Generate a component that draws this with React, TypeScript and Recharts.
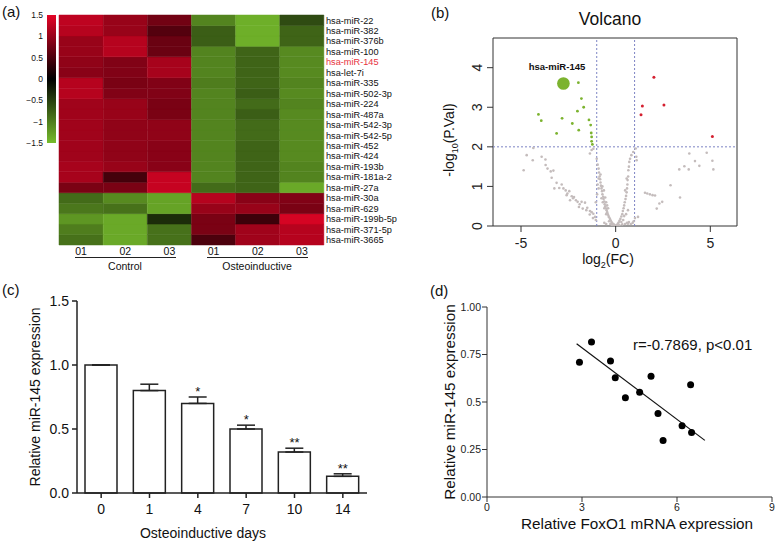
import React from "react";
import {
  Bar,
  BarChart,
  Cell,
  ComposedChart,
  ErrorBar,
  LabelList,
  Line,
  ReferenceArea,
  ReferenceLine,
  Scatter,
  ScatterChart,
  XAxis,
  YAxis,
} from "recharts";

const FONT = '"Liberation Sans", Arial, Helvetica, sans-serif';

// ---------- (a) heatmap ----------
const heatSamples = ["01", "02", "03", "01", "02", "03"];
const heatGroups = ["Control", "Osteoinductive"];
const heatRows = [
  "hsa-miR-22", "hsa-miR-382", "hsa-miR-376b", "hsa-miR-100", "hsa-miR-145", "hsa-let-7i",
  "hsa-miR-335", "hsa-miR-502-3p", "hsa-miR-224", "hsa-miR-487a", "hsa-miR-542-3p", "hsa-miR-542-5p",
  "hsa-miR-452", "hsa-miR-424", "hsa-miR-193b", "hsa-miR-181a-2", "hsa-miR-27a", "hsa-miR-30a",
  "hsa-miR-629", "hsa-miR-199b-5p", "hsa-miR-371-5p", "hsa-miR-3665",
];
const heatValues = [
  [1.25, 1.0, 0.75, -1.05, -1.4, -0.6],
  [1.2, 1.0, 0.55, -0.75, -1.4, -0.8],
  [1.0, 1.2, 0.7, -0.75, -1.4, -0.8],
  [1.0, 1.2, 0.7, -1.05, -0.8, -1.1],
  [0.95, 0.85, 1.1, -1.05, -0.8, -1.1],
  [0.9, 0.85, 1.1, -1.05, -0.8, -1.1],
  [1.2, 0.8, 0.85, -1.0, -0.8, -1.05],
  [1.2, 0.85, 0.85, -1.05, -0.75, -1.1],
  [1.05, 1.0, 0.8, -1.05, -0.85, -1.05],
  [1.05, 1.0, 0.8, -1.05, -0.75, -1.1],
  [1.05, 0.95, 0.95, -1.05, -0.85, -1.1],
  [1.05, 0.95, 0.95, -1.05, -0.85, -1.1],
  [1.05, 0.95, 0.9, -1.05, -0.8, -1.1],
  [1.05, 0.95, 0.9, -1.05, -0.8, -1.1],
  [1.1, 1.0, 0.9, -1.05, -0.8, -1.05],
  [1.1, 0.45, 1.3, -1.05, -0.8, -1.05],
  [0.8, 0.8, 1.3, -0.85, -0.8, -1.35],
  [-0.85, -1.1, -1.3, 1.2, 0.9, 0.85],
  [-0.95, -0.9, -1.3, 1.0, 1.0, 0.8],
  [-1.2, -1.35, -0.35, 0.8, 0.4, 1.4],
  [-1.0, -1.35, -0.9, 0.8, 1.05, 1.2],
  [-0.9, -1.35, -0.9, 0.5, 1.05, 1.2],
];
const scaleTicks = [1.5, 1, 0.5, 0, -0.5, -1, -1.5];

// ---------- (b) volcano ----------
const volcanoGrey = [
  [-4.35, 1.97], [-4.7, 1.79], [-4.38, 1.66], [-4.86, 1.41], [-3.91, 1.75], [-3.71, 1.68], [-3.7, 1.54],
  [-3.6, 1.45], [-3.43, 1.38], [-3.29, 1.4], [-3.38, 1.22], [-3.12, 1.09], [-3.24, 0.95], [-2.98, 0.96],
  [-2.76, 0.95], [-2.64, 0.9], [-2.59, 0.78], [-2.45, 0.88], [-2.32, 0.75], [-2.41, 0.65], [-2.2, 0.73],
  [-2.1, 0.65], [-2.01, 0.61], [-1.8, 0.61], [-1.62, 0.59], [-1.94, 0.48], [-1.74, 0.44], [-1.5, 0.46],
  [-1.36, 0.38], [-1.27, 0.35], [-1.18, 0.31], [-1.37, 0.29], [-1.09, 0.23], [-2.85, 1.05], [-2.55, 0.82],
  [-2.25, 0.7], [-1.9, 0.55], [-1.55, 0.4], [-1.2, 0.2], [-1.05, 0.15], [-1.27, 1.92], [-1.36, 1.83],
  [-1.18, 1.95], [-1.0, 1.7], [-0.95, 1.55], [-0.9, 1.45], [-0.88, 1.35], [-0.85, 1.25], [-0.82, 1.18],
  [-0.8, 1.1], [-0.78, 1.02], [-0.75, 0.95], [-0.72, 0.88], [-0.7, 0.8], [-0.66, 0.74], [-0.64, 0.68],
  [-0.6, 0.62], [-0.58, 0.55], [-0.55, 0.5], [-0.52, 0.45], [-0.48, 0.4], [-0.45, 0.35], [-0.42, 0.3],
  [-0.38, 0.26], [-0.35, 0.22], [-0.3, 0.18], [-0.26, 0.14], [-0.22, 0.1], [-0.18, 0.07], [-0.12, 0.05],
  [-0.08, 0.03], [-0.04, 0.01], [-0.9, 1.2], [-0.8, 1.3], [-0.7, 1.0], [-0.62, 0.9], [-0.55, 0.72],
  [-0.5, 0.6], [-0.45, 0.52], [-0.4, 0.45], [-0.68, 0.6], [-0.6, 0.45], [-0.5, 0.3], [-0.9, 0.95],
  [-0.95, 1.05], [-0.75, 0.7], [-0.35, 0.12], [-0.28, 0.05], [-0.2, 0.02], [-1.05, 0.6], [-0.98, 0.8],
  [0.04, 0.01], [0.08, 0.03], [0.12, 0.06], [0.16, 0.09], [0.2, 0.13], [0.25, 0.18], [0.3, 0.24],
  [0.35, 0.3], [0.38, 0.38], [0.42, 0.45], [0.45, 0.52], [0.48, 0.6], [0.52, 0.68], [0.55, 0.76],
  [0.58, 0.85], [0.6, 0.95], [0.62, 1.05], [0.63, 1.16], [0.66, 1.25], [0.67, 1.41], [0.76, 1.7],
  [0.83, 1.79], [0.93, 1.87], [1.06, 1.96], [1.09, 1.75], [1.11, 1.66], [0.7, 1.5], [0.72, 1.62],
  [0.3, 0.1], [0.4, 0.15], [0.5, 0.05], [0.6, 0.08], [0.7, 0.1], [0.8, 0.05], [0.45, 0.25], [0.55, 0.3],
  [0.65, 0.4], [0.5, 0.9], [0.58, 1.2], [1.02, 0.2], [1.18, 0.23], [0.95, 0.12], [-0.5, 0.05],
  [-0.6, 0.08], [0.2, 0.02], [0.35, 0.04], [0.65, 0.06], [0.9, 0.08], [1.55, 0.84], [1.67, 0.82],
  [1.81, 0.8], [1.95, 0.78], [2.08, 0.77], [2.31, 0.57], [2.46, 0.61], [2.17, 0.44], [2.9, 1.03],
  [3.4, 0.72], [3.36, 1.43], [3.63, 1.51], [3.86, 1.43], [3.89, 1.83], [4.19, 1.64], [4.42, 1.52],
  [4.81, 1.85], [5.11, 1.65], [5.16, 1.43],
];
const volcanoDown = [
  [-1.97, 3.62], [-1.81, 3.22], [-1.69, 3.0], [-2.02, 2.9], [-4.08, 2.82], [-3.93, 2.66], [-2.83, 2.72],
  [-1.41, 2.68], [-2.29, 2.59], [-1.32, 2.55], [-1.95, 2.42], [-3.12, 2.34], [-1.29, 2.35], [-1.27, 2.25],
  [-1.27, 2.14], [-1.23, 2.06],
];
const volcanoUp = [[2.02, 3.76], [1.41, 3.03], [2.55, 3.06], [1.34, 2.81], [5.11, 2.26]];
const volcanoHit = [[-2.76, 3.6]];

// ---------- (c) bar chart ----------
const days = ["0", "1", "4", "7", "10", "14"];
const expr = [1.0, 0.8, 0.7, 0.5, 0.32, 0.13];
const sem = [0, 0.05, 0.05, 0.03, 0.03, 0.02];
const sig = ["", "", "*", "*", "**", "**"];

// ---------- (d) correlation ----------
const foxo1 = [2.92, 3.3, 3.9, 4.05, 4.37, 4.82, 5.18, 5.4, 5.56, 6.16, 6.43, 6.46];
const mir145 = [0.709, 0.816, 0.716, 0.628, 0.523, 0.551, 0.635, 0.439, 0.298, 0.375, 0.591, 0.339];
const fitX = [2.83, 6.88];
const fitY = [0.807, 0.298];

function heatColor(v: number) {
  const t = Math.min(Math.abs(v) / 1.5, 1);
  const end = v >= 0 ? [228, 4, 38] : [118, 188, 44];
  return `rgb(${end.map((c) => Math.round(c * t)).join(",")})`;
}

const heatData = heatSamples.map((s, j) => {
  const row: Record<string, number | string> = { id: j, sample: s };
  heatRows.forEach((_, i) => (row[`r${i}`] = 1));
  return row;
});
const toPts = (arr: number[][]) => arr.map(([x, y]) => ({ x, y }));
const barData = days.map((d, i) => ({ day: d, value: expr[i], err: [0, sem[i]], top: expr[i] + sem[i], sig: sig[i] }));
const corrData = foxo1.map((x, i) => ({ x, y: mir145[i] }));

function Txt({ x, y, size, children, center = true, color = "#111", rotate = false, weight = 400 }: any) {
  return (
    <div
      style={{
        position: "absolute",
        left: x,
        top: y,
        fontSize: size,
        color,
        fontWeight: weight,
        whiteSpace: "nowrap",
        lineHeight: 1,
        transform: `${center ? "translate(-50%,-50%)" : "translate(0,-50%)"}${rotate ? " rotate(-90deg)" : ""}`,
      }}
    >
      {children}
    </div>
  );
}

const dot = (r: number, fill: string) => (p: any) => <circle cx={p.cx} cy={p.cy} r={r} fill={fill} />;

export default function App() {
  const rowTicks = heatRows.map((_, i) => heatRows.length - 0.5 - i);
  return (
    <div style={{ position: "absolute", left: 0, top: 0, width: 778, height: 544, background: "#fff", fontFamily: FONT, overflow: "hidden" }}>
      {/* (a) colour key */}
      <div style={{ position: "absolute", left: 0, top: 0 }}>
        <BarChart width={60} height={160} data={[{ k: "key", range: [-1.5, 1.5] }]} margin={{ top: 15, right: 4, bottom: 17, left: 0 }} barCategoryGap={0}>
          <defs>
            <linearGradient id="cbar" x1="0" y1="0" x2="0" y2="1">
              <stop offset="0%" stopColor={heatColor(1.5)} />
              <stop offset="50%" stopColor="#000" />
              <stop offset="100%" stopColor={heatColor(-1.5)} />
            </linearGradient>
          </defs>
          <XAxis dataKey="k" hide />
          <YAxis
            type="number"
            domain={[-1.5, 1.5]}
            ticks={scaleTicks}
            width={47}
            tickSize={0}
            tickMargin={4}
            axisLine={false}
            tickLine={false}
            tick={{ fontSize: 8.5, fill: "#111", fontFamily: FONT }}
            tickFormatter={(v: number) => String(v).replace("-", "\u2212")}
          />
          <Bar dataKey="range" fill="url(#cbar)" isAnimationActive={false} />
        </BarChart>
      </div>

      {/* (a) heatmap */}
      <div style={{ position: "absolute", left: 0, top: 0 }}>
        <BarChart width={400} height={280} data={heatData} margin={{ top: 15, right: 0, bottom: 0, left: 59 }} barCategoryGap={0} barGap={0}>
          <XAxis
            dataKey="id"
            height={35}
            tickSize={0}
            tickMargin={3}
            axisLine={false}
            tickLine={false}
            tick={{ fontSize: 10.5, fill: "#111", fontFamily: FONT }}
            tickFormatter={(v: number) => heatSamples[v]}
          />
          <YAxis
            orientation="right"
            type="number"
            domain={[0, heatRows.length]}
            ticks={rowTicks}
            width={76}
            tickSize={0}
            tickMargin={2}
            axisLine={false}
            tickLine={false}
            interval={0}
            tick={(p: any) => {
              const idx = Math.round(heatRows.length - 0.5 - p.payload.value);
              return (
                <text x={p.x} y={p.y} dy={3.3} fontSize={9.2} fontFamily={FONT} textAnchor="start" fill={heatRows[idx] === "hsa-miR-145" ? "#e8323c" : "#111"}>
                  {heatRows[idx]}
                </text>
              );
            }}
          />
          {heatRows
            .map((_, i) => i)
            .reverse()
            .map((i) => (
              <Bar key={i} dataKey={`r${i}`} stackId="h" isAnimationActive={false}>
                {heatSamples.map((_, j) => (
                  <Cell key={j} fill={heatColor(heatValues[i][j])} stroke={heatColor(heatValues[i][j])} strokeWidth={0.5} />
                ))}
              </Bar>
            ))}
        </BarChart>
      </div>
      <div style={{ position: "absolute", left: 75, top: 257, width: 101, borderTop: "1px solid #222" }} />
      <div style={{ position: "absolute", left: 207, top: 257, width: 101, borderTop: "1px solid #222" }} />
      <Txt x={125} y={266} size={10.5}>{heatGroups[0]}</Txt>
      <Txt x={257} y={266} size={10.5}>{heatGroups[1]}</Txt>
      <Txt x={2} y={11} size={15} center={false}>(a)</Txt>

      {/* (b) volcano */}
      <div style={{ position: "absolute", left: 400, top: 0 }}>
        <ScatterChart width={378} height={280} margin={{ top: 38, right: 41, bottom: 0, left: 0 }}>
          <XAxis
            type="number"
            dataKey="x"
            domain={[-6.48, 6.41]}
            ticks={[-5, 0, 5]}
            height={54}
            axisLine={false}
            tickSize={6}
            tickMargin={6}
            stroke="#333"
            tick={{ fontSize: 14, fill: "#222", fontFamily: FONT }}
            allowDataOverflow
          />
          <YAxis
            type="number"
            dataKey="y"
            domain={[0, 4.75]}
            ticks={[0, 1, 2, 3, 4]}
            width={93}
            axisLine={false}
            tickSize={6}
            tickMargin={5}
            stroke="#333"
            allowDataOverflow
            tick={(p: any) => (
              <text x={p.x} y={p.y} transform={`rotate(-90 ${p.x} ${p.y})`} textAnchor="middle" fontSize={14} fill="#222" fontFamily={FONT}>
                {p.payload.value}
              </text>
            )}
          />
          <ReferenceArea x1={-6.48} x2={6.41} y1={0} y2={4.75} fill="none" fillOpacity={0} stroke="#333" strokeWidth={1} ifOverflow="visible" />
          <ReferenceLine x={-1} stroke="#7d84c4" strokeDasharray="2 2" />
          <ReferenceLine x={1} stroke="#7d84c4" strokeDasharray="2 2" />
          <ReferenceLine y={2} stroke="#7d84c4" strokeDasharray="2 2" />
          <Scatter data={toPts(volcanoGrey)} shape={dot(1.3, "#c4bcbc")} isAnimationActive={false} />
          <Scatter data={toPts(volcanoDown)} shape={dot(1.4, "#7cb32f")} isAnimationActive={false} />
          <Scatter data={toPts(volcanoUp)} shape={dot(1.5, "#d42030")} isAnimationActive={false} />
          <Scatter data={toPts(volcanoHit)} shape={dot(6.3, "#7cb32f")} isAnimationActive={false} />
        </ScatterChart>
      </div>
      <Txt x={557} y={67} size={9.5} weight={700}>hsa-miR-145</Txt>
      <Txt x={610} y={20} size={17.5}>Volcano</Txt>
      <Txt x={608} y={261} size={14}>
        log<sub style={{ fontSize: 9 }}>2</sub>(FC)
      </Txt>
      <Txt x={451} y={140} size={14} rotate>
        -log<sub style={{ fontSize: 9 }}>10</sub>(P.Val)
      </Txt>
      <Txt x={431} y={12} size={15} center={false}>(b)</Txt>

      {/* (c) bar chart */}
      <div style={{ position: "absolute", left: 0, top: 270 }}>
        <ComposedChart width={390} height={274} data={barData} margin={{ top: 31, right: 23, bottom: 0, left: 0 }}>
          <XAxis
            dataKey="day"
            height={51}
            stroke="#222"
            strokeWidth={1.5}
            tickSize={5}
            tickMargin={6}
            tick={{ fontSize: 14, fill: "#111", fontFamily: FONT }}
          />
          <YAxis
            type="number"
            domain={[0, 1.5]}
            ticks={[0, 0.5, 1, 1.5]}
            width={77}
            stroke="#222"
            strokeWidth={1.5}
            tickSize={5}
            tickMargin={3}
            tick={{ fontSize: 14, fill: "#111", fontFamily: FONT }}
            tickFormatter={(v: number) => v.toFixed(1)}
          />
          <Bar dataKey="value" fill="#fff" stroke="#222" strokeWidth={1.5} barSize={32} isAnimationActive={false}>
            <ErrorBar dataKey="err" width={9} stroke="#222" strokeWidth={1.5} direction="y" />
          </Bar>
          <Line dataKey="top" stroke="none" dot={false} activeDot={false} isAnimationActive={false} legendType="none">
            <LabelList dataKey="sig" position="top" offset={1} fontSize={13} fill="#111" fontFamily={FONT} />
          </Line>
        </ComposedChart>
      </div>
      <Txt x={35} y={397} size={14} rotate>Relative miR-145 expression</Txt>
      <Txt x={203} y={533} size={14}>Osteoinductive days</Txt>
      <Txt x={2} y={289} size={15} center={false}>(c)</Txt>

      {/* (d) correlation */}
      <div style={{ position: "absolute", left: 400, top: 270 }}>
        <ScatterChart width={378} height={274} margin={{ top: 37, right: 6, bottom: 0, left: 0 }} style={{ overflow: "visible" }}>
          <XAxis
            type="number"
            dataKey="x"
            domain={[0, 9]}
            ticks={[0, 3, 6, 9]}
            height={47}
            stroke="#333"
            tickSize={5}
            tickMargin={2}
            tick={{ fontSize: 10.5, fill: "#222", fontFamily: FONT }}
          />
          <YAxis
            type="number"
            dataKey="y"
            domain={[0, 1]}
            ticks={[0, 0.25, 0.5, 0.75, 1]}
            width={87}
            stroke="#333"
            tickSize={5}
            tickMargin={1}
            tick={{ fontSize: 10.5, fill: "#222", fontFamily: FONT }}
            tickFormatter={(v: number) => (v === 0.5 ? "0.5" : v.toFixed(2))}
          />
          <ReferenceLine
            segment={[
              { x: fitX[0], y: fitY[0] },
              { x: fitX[1], y: fitY[1] },
            ]}
            stroke="#111"
            strokeWidth={1.2}
          />
          <Scatter data={corrData} shape={dot(3.5, "#000")} isAnimationActive={false} />
        </ScatterChart>
      </div>
      <Txt x={450} y={402} size={15.3} rotate>Relative miR-145 expression</Txt>
      <Txt x={637} y={524} size={15.3}>Relative FoxO1 mRNA expression</Txt>
      <Txt x={633} y={344} size={15} center={false}>r=-0.7869, p&lt;0.01</Txt>
      <Txt x={430} y={290} size={15} center={false}>(d)</Txt>
    </div>
  );
}
